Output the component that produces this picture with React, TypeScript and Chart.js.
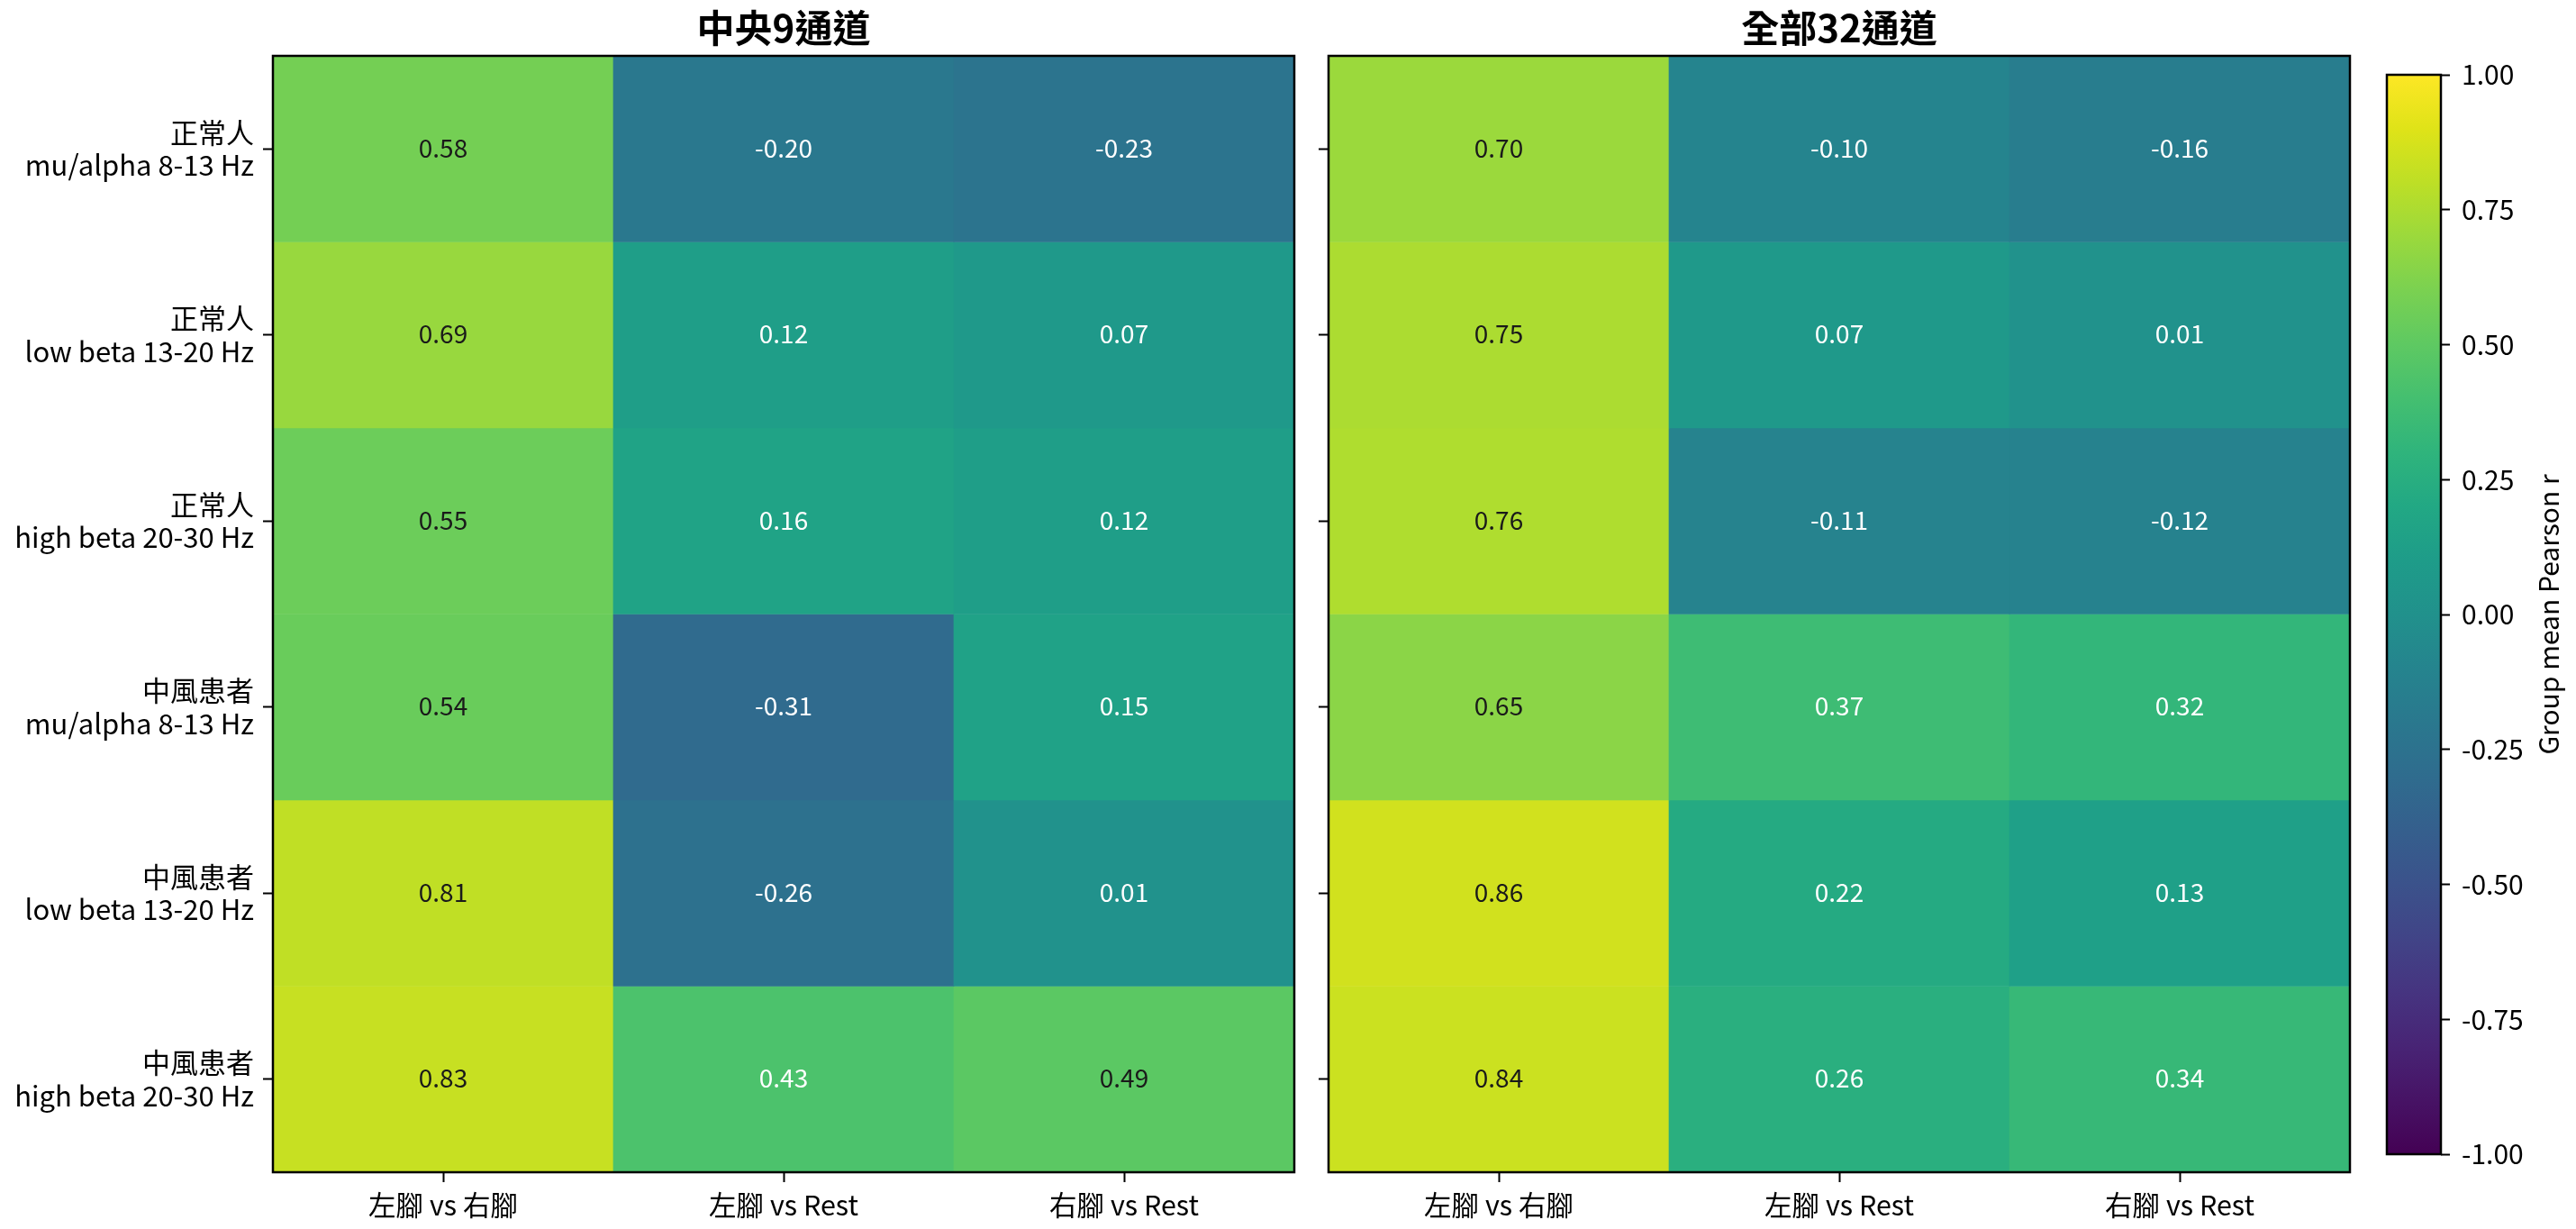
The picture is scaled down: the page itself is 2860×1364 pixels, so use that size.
import React, { useEffect, useRef } from "react";
import { Chart, registerables } from "chart.js";

Chart.register(...registerables);

// ---------------- data ----------------
const rowLabels: string[][] = [
  ["正常人", "mu/alpha 8-13 Hz"],
  ["正常人", "low beta 13-20 Hz"],
  ["正常人", "high beta 20-30 Hz"],
  ["中風患者", "mu/alpha 8-13 Hz"],
  ["中風患者", "low beta 13-20 Hz"],
  ["中風患者", "high beta 20-30 Hz"],
];
const colLabels = ["左腳 vs 右腳", "左腳 vs Rest", "右腳 vs Rest"];

const panelTitles = ["中央9通道", "全部32通道"];

// 中央9通道 (one array per column, rows top→bottom)
const central9_leftVsRight = [0.58, 0.69, 0.55, 0.54, 0.81, 0.83];
const central9_leftVsRest = [-0.2, 0.12, 0.16, -0.31, -0.26, 0.43];
const central9_rightVsRest = [-0.23, 0.07, 0.12, 0.15, 0.01, 0.49];

// 全部32通道
const all32_leftVsRight = [0.7, 0.75, 0.76, 0.65, 0.86, 0.84];
const all32_leftVsRest = [-0.1, 0.07, -0.11, 0.37, 0.22, 0.26];
const all32_rightVsRest = [-0.16, 0.01, -0.12, 0.32, 0.13, 0.34];

const colorbarMin = -1;
const colorbarMax = 1;
const colorbarStep = 0.25;
const colorbarLabel = "Group mean Pearson r";

// viridis colormap stops (0 → 1)
const VIRIDIS = [
  "#440154", "#471365", "#482475", "#463480", "#414487", "#3b528b", "#355f8d",
  "#2f6c8e", "#2a788e", "#25848e", "#21918c", "#1e9c89", "#22a884", "#2fb47c",
  "#44bf70", "#5ec962", "#7ad151", "#9bd93c", "#bddf26", "#dfe318", "#fde725",
];

// ---------------- helpers ----------------
const FONT = "'Noto Sans CJK TC', 'Noto Sans', sans-serif";

function hexToRgb(h: string): number[] {
  const n = parseInt(h.slice(1), 16);
  return [(n >> 16) & 255, (n >> 8) & 255, n & 255];
}
const VIRIDIS_RGB = VIRIDIS.map(hexToRgb);

function viridis(v: number): string {
  let t = (v - colorbarMin) / (colorbarMax - colorbarMin);
  t = Math.max(0, Math.min(1, t));
  const pos = t * (VIRIDIS_RGB.length - 1);
  const i = Math.min(Math.floor(pos), VIRIDIS_RGB.length - 2);
  const f = pos - i;
  const a = VIRIDIS_RGB[i];
  const b = VIRIDIS_RGB[i + 1];
  const c = a.map((x, k) => Math.round(x + (b[k] - x) * f));
  return `rgb(${c[0]},${c[1]},${c[2]})`;
}

const framePlugin = {
  id: "frame",
  afterDatasetsDraw(chart: any) {
    const { ctx, chartArea: a } = chart;
    ctx.save();
    ctx.strokeStyle = "#000";
    ctx.lineWidth = 2.5;
    ctx.strokeRect(a.left, a.top, a.right - a.left, a.bottom - a.top);
    ctx.restore();
  },
};

const cellTextPlugin = {
  id: "cellText",
  afterDatasetsDraw(chart: any) {
    const { ctx } = chart;
    ctx.save();
    ctx.font = `28px ${FONT}`;
    ctx.textAlign = "center";
    ctx.textBaseline = "middle";
    chart.data.datasets.forEach((ds: any, di: number) => {
      const meta = chart.getDatasetMeta(di);
      meta.data.forEach((el: any, i: number) => {
        const p = el.getProps(["x", "y", "base"], true);
        const v = ds.cellValues[i];
        ctx.fillStyle = v < 0.45 ? "#ffffff" : "#1a1a1a";
        ctx.fillText(v.toFixed(2), p.x, (p.y + p.base) / 2 - 1);
      });
    });
    ctx.restore();
  },
};

const colorbarLabelPlugin = {
  id: "cbLabel",
  afterDraw(chart: any) {
    const { ctx, chartArea: a } = chart;
    ctx.save();
    ctx.translate(210, (a.top + a.bottom) / 2);
    ctx.rotate(-Math.PI / 2);
    ctx.font = `30px ${FONT}`;
    ctx.fillStyle = "#000";
    ctx.textAlign = "center";
    ctx.textBaseline = "middle";
    ctx.fillText(colorbarLabel, 0, 0);
    ctx.restore();
  },
};

function heatmapConfig(
  title: string,
  columns: number[][],
  showYLabels: boolean,
  yWidth: number,
  padRight: number
): any {
  const tickGrid = {
    display: true,
    offset: false,
    drawOnChartArea: false,
    drawTicks: true,
    tickLength: 11,
    tickWidth: 2,
    tickColor: "#000",
  };
  return {
    type: "bar",
    data: {
      labels: colLabels,
      datasets: rowLabels.map((_, r) => ({
        data: columns.map(() => [r, r + 1]),
        cellValues: columns.map((col) => col[r]),
        backgroundColor: columns.map((col) => viridis(col[r])),
        borderWidth: 0,
        grouped: false,
        barPercentage: 1,
        categoryPercentage: 1,
      })),
    },
    options: {
      responsive: false,
      animation: false,
      devicePixelRatio: 1,
      events: [],
      layout: { padding: { left: 0, right: padRight, top: 0, bottom: 0 } },
      plugins: {
        legend: { display: false },
        tooltip: { enabled: false },
        title: {
          display: true,
          text: title,
          fullSize: false,
          color: "#000",
          font: { family: FONT, size: 42, weight: "bold", lineHeight: 1.1 },
          padding: { top: 8, bottom: 7.8 },
        },
      },
      scales: {
        x: {
          type: "category",
          offset: true,
          grid: tickGrid,
          border: { display: false },
          ticks: {
            color: "#000",
            font: { family: FONT, size: 30.5 },
            padding: 7,
            maxRotation: 0,
            autoSkip: false,
          },
          afterFit: (s: any) => {
            s.height = 63;
          },
        },
        y: {
          type: "linear",
          min: 0,
          max: rowLabels.length,
          reverse: true,
          grid: tickGrid,
          border: { display: false },
          ticks: {
            color: "#000",
            font: { family: FONT, size: 31, lineHeight: 1.17 },
            padding: 10,
            autoSkip: false,
            callback: (_v: any, i: number) => (showYLabels ? rowLabels[i] : ""),
          },
          afterBuildTicks: (s: any) => {
            s.ticks = rowLabels.map((_, i) => ({ value: i + 0.5 }));
          },
          afterFit: (s: any) => {
            s.width = yWidth;
          },
        },
      },
    },
    plugins: [framePlugin, cellTextPlugin],
  };
}

function colorbarConfig(): any {
  const n = VIRIDIS.length;
  return {
    type: "bar",
    data: {
      labels: [""],
      datasets: [
        {
          data: [[colorbarMin, colorbarMax]],
          backgroundColor: (c: any) => {
            const ch = c.chart;
            if (!ch.chartArea) return VIRIDIS[10];
            const y = ch.scales.y;
            const g = ch.ctx.createLinearGradient(
              0,
              y.getPixelForValue(colorbarMin),
              0,
              y.getPixelForValue(colorbarMax)
            );
            VIRIDIS.forEach((col, i) => g.addColorStop(i / (n - 1), col));
            return g;
          },
          borderWidth: 0,
          barPercentage: 1,
          categoryPercentage: 1,
        },
      ],
    },
    options: {
      responsive: false,
      animation: false,
      devicePixelRatio: 1,
      events: [],
      layout: { padding: { left: 30, right: 0, top: 83, bottom: 83 } },
      plugins: {
        legend: { display: false },
        tooltip: { enabled: false },
        title: { display: false },
      },
      scales: {
        x: { display: false },
        y: {
          position: "right",
          min: colorbarMin,
          max: colorbarMax,
          grid: {
            display: true,
            drawOnChartArea: false,
            drawTicks: true,
            tickLength: 10,
            tickWidth: 2,
            tickColor: "#000",
          },
          border: { display: false },
          ticks: {
            stepSize: colorbarStep,
            color: "#000",
            font: { family: FONT, size: 30 },
            padding: 13,
            callback: (v: any) => Number(v).toFixed(2),
          },
          afterFit: (s: any) => {
            s.width = 150;
          },
        },
      },
    },
    plugins: [framePlugin, colorbarLabelPlugin],
  };
}

export default function App() {
  const leftRef = useRef<HTMLCanvasElement>(null);
  const rightRef = useRef<HTMLCanvasElement>(null);
  const cbRef = useRef<HTMLCanvasElement>(null);

  useEffect(() => {
    const charts: Chart[] = [];
    charts.push(
      new Chart(
        leftRef.current!,
        heatmapConfig(
          panelTitles[0],
          [central9_leftVsRight, central9_leftVsRest, central9_rightVsRest],
          true,
          303,
          19
        )
      )
    );
    charts.push(
      new Chart(
        rightRef.current!,
        heatmapConfig(
          panelTitles[1],
          [all32_leftVsRight, all32_leftVsRest, all32_rightVsRest],
          false,
          19,
          11
        )
      )
    );
    charts.push(new Chart(cbRef.current!, colorbarConfig()));
    return () => charts.forEach((c) => c.destroy());
  }, []);

  const H = 1364;
  const box = (left: number, width: number): React.CSSProperties => ({
    position: "absolute",
    left,
    top: 0,
    width,
    height: H,
  });

  return (
    <div
      style={{
        position: "absolute",
        left: 0,
        top: 0,
        width: 2860,
        height: H,
        background: "#fff",
        overflow: "hidden",
      }}
    >
      <div style={box(0, 1456)}>
        <canvas ref={leftRef} width={1456} height={H} style={{ width: 1456, height: H }} />
      </div>
      <div style={box(1456, 1164)}>
        <canvas ref={rightRef} width={1164} height={H} style={{ width: 1164, height: H }} />
      </div>
      <div style={box(2620, 240)}>
        <canvas ref={cbRef} width={240} height={H} style={{ width: 240, height: H }} />
      </div>
    </div>
  );
}
